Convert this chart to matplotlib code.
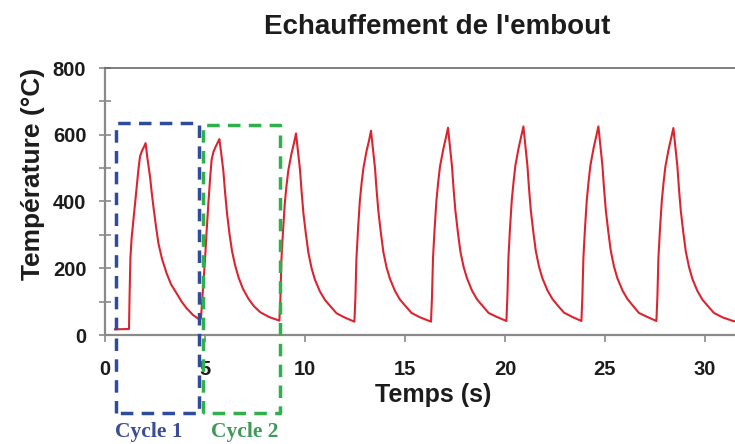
import matplotlib
matplotlib.use("Agg")
import matplotlib.pyplot as plt
from matplotlib.ticker import MultipleLocator

# Temperature of the tip over successive heating cycles
time_s = [
    0.5, 1.2, 1.23, 1.27, 1.33, 1.42, 1.5, 1.58, 1.67, 1.75, 1.85, 1.92, 2.03,
    2.12, 2.25, 2.33, 2.42, 2.55, 2.67, 2.85, 3.08, 3.3, 3.58, 3.83, 4.08, 4.4, 4.75,
    4.8, 4.88, 5.0, 5.08, 5.17, 5.25, 5.33, 5.42, 5.5, 5.62, 5.72,
    5.82, 5.92, 6.0, 6.1, 6.22, 6.35, 6.5, 6.68, 6.9, 7.18, 7.45, 7.77, 8.2, 8.72,
    8.77, 8.82, 8.9, 8.99, 9.08, 9.17, 9.33, 9.45, 9.55, 9.65, 9.75, 9.83,
    9.92, 10.05, 10.17, 10.33, 10.5, 10.75, 11.0, 11.3, 11.58, 12.0, 12.47,
    12.52, 12.57, 12.65, 12.74, 12.83, 12.92, 13.08, 13.2, 13.3, 13.4, 13.5, 13.58,
    13.67, 13.8, 13.92, 14.08, 14.25, 14.5, 14.75, 15.05, 15.33, 15.75, 16.3,
    16.35, 16.4, 16.48, 16.57, 16.66, 16.75, 16.92, 17.04, 17.15, 17.25, 17.35, 17.43,
    17.52, 17.65, 17.77, 17.93, 18.1, 18.35, 18.6, 18.9, 19.18, 19.6, 20.07,
    20.12, 20.17, 20.25, 20.34, 20.43, 20.52, 20.68, 20.8, 20.92, 21.02, 21.12, 21.2,
    21.29, 21.42, 21.54, 21.7, 21.87, 22.12, 22.37, 22.67, 22.95, 23.37, 23.82,
    23.87, 23.92, 24.0, 24.09, 24.18, 24.27, 24.43, 24.55, 24.67, 24.77, 24.87, 24.95,
    25.04, 25.17, 25.29, 25.45, 25.62, 25.87, 26.12, 26.42, 26.7, 27.12, 27.57,
    27.62, 27.67, 27.75, 27.84, 27.93, 28.02, 28.18, 28.3, 28.42, 28.52, 28.62, 28.7,
    28.79, 28.92, 29.04, 29.2, 29.37, 29.62, 29.87, 30.17, 30.45, 30.87, 31.4, 31.6,
]
temp_c = [
    17, 18, 120, 230, 290, 345, 395, 445, 495, 535, 552, 560, 575,
    530, 475, 430, 385, 325, 275, 228, 185, 152, 125, 100, 80, 60, 45,
    52, 120, 225, 310, 395, 465, 525, 548, 560, 575, 587,
    540, 490, 430, 365, 305, 252, 210, 172, 138, 108, 86, 68, 54, 43,
    110, 225, 310, 395, 450, 495, 545, 575, 604, 550, 495, 430,
    365, 300, 246, 200, 165, 130, 105, 84, 65, 52, 40,
    112, 228, 315, 400, 455, 500, 552, 582, 612, 556, 500, 434,
    370, 303, 248, 202, 168, 132, 106, 85, 66, 53, 40,
    115, 230, 318, 402, 458, 505, 558, 590, 621, 562, 505, 437,
    372, 305, 250, 204, 170, 133, 107, 86, 66, 54, 42,
    115, 230, 320, 405, 460, 508, 560, 592, 625, 565, 508, 440,
    374, 307, 252, 205, 170, 134, 108, 86, 67, 54, 42,
    116, 232, 320, 405, 460, 508, 560, 592, 625, 565, 508, 440,
    374, 307, 252, 205, 170, 134, 108, 86, 66, 54, 42,
    115, 230, 318, 402, 458, 505, 556, 588, 620, 562, 505, 437,
    372, 305, 250, 204, 168, 132, 106, 85, 66, 53, 42, 40,
]

# Dashed frames marking the first two cycles: (t_start, t_end, T_top, T_bottom)
cycle_names = ["Cycle 1", "Cycle 2"]
cycle_frames = [(0.55, 4.72, 635, -234), (4.92, 8.75, 629, -234)]
cycle_colors = ["#2f4c9c", "#2fb04c"]
cycle_text_colors = ["#3a4d96", "#3f9a58"]

x_ticks = [0, 5, 10, 15, 20, 25, 30]
y_ticks = [0, 200, 400, 600, 800]

sans = ["Liberation Sans", "DejaVu Sans"]
serif = ["Liberation Serif", "DejaVu Serif"]
ink = "#1c1c1c"
axis_gray = "#8a8a8a"

fig = plt.figure(figsize=(7.35, 4.44), dpi=100)
ax = fig.add_axes([105 / 735, 109 / 444, 630 / 735, 267 / 444])

ax.plot(time_s, temp_c, color="#dc2430", lw=1.5, solid_joinstyle="round", zorder=3)

for (t0, t1, top, bot), col in zip(cycle_frames, cycle_colors):
    ax.plot([t0, t0, t1, t1, t0], [bot, top, top, bot, bot], color=col, lw=2.5,
            linestyle=(0, (3.6, 2.4)), clip_on=False, zorder=4)

ax.set_xlim(0, 31.5)
ax.set_ylim(0, 800)
ax.set_xticks(x_ticks)
ax.set_yticks(y_ticks)
ax.yaxis.set_minor_locator(MultipleLocator(100))

ax.spines["right"].set_visible(False)
for side in ("left", "bottom"):
    ax.spines[side].set_color(axis_gray)
    ax.spines[side].set_linewidth(1.6)
ax.spines["top"].set_color("#6a6a6a")
ax.spines["top"].set_linewidth(1.2)

ax.tick_params(axis="y", which="both", direction="inout", length=9, width=1.2,
               color=axis_gray, pad=9)
ax.tick_params(axis="x", which="major", direction="out", length=5, width=1.2,
               color=axis_gray, pad=13)
for lab in ax.get_xticklabels() + ax.get_yticklabels():
    lab.set_fontfamily(sans)
    lab.set_fontweight("bold")
    lab.set_fontsize(14.5)
    lab.set_color(ink)

fig.text(437 / 735, 1 - 27 / 444, "Echauffement de l'embout", ha="center", va="center",
         fontsize=20, fontweight="bold", family=sans, color=ink)
fig.text(433 / 735, 1 - 395 / 444, "Temps (s)", ha="center", va="center",
         fontsize=18, fontweight="bold", family=sans, color=ink)
fig.text(33 / 735, 1 - 174 / 444, "Température (°C)", ha="center", va="center",
         rotation=90, fontsize=19, fontweight="bold", family=sans, color=ink)

for name, xc, col in zip(cycle_names, [149, 245], cycle_text_colors):
    fig.text(xc / 735, 1 - 432 / 444, name, ha="center", va="center",
             fontsize=15.5, fontweight="bold", family=serif, color=col)

fig.savefig("out.png", dpi=100, facecolor="white")
